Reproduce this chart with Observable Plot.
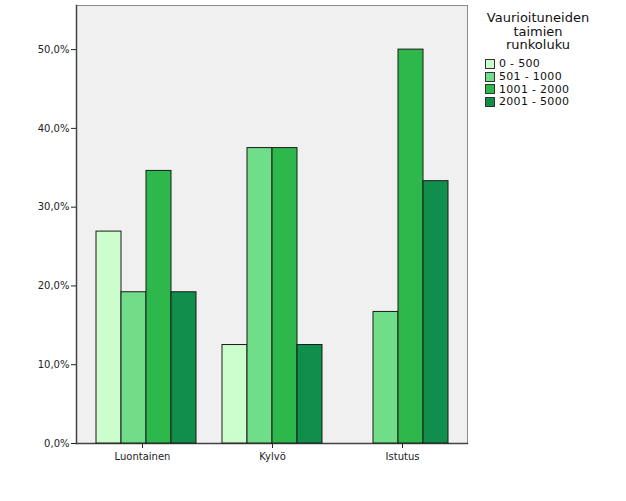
<!DOCTYPE html>
<html><head><meta charset="utf-8">
<script src="https://cdn.jsdelivr.net/npm/d3@7"></script>
<script src="https://cdn.jsdelivr.net/npm/@observablehq/plot@0.6"></script>
<style>
body{margin:0;background:#fff;font-family:"DejaVu Sans",sans-serif;}
#wrap{position:relative;width:626px;height:501px;}
#bg,#fg{position:absolute;left:0;top:0;}
#legend{position:absolute;left:470px;top:11px;width:136px;font-family:"DejaVu Sans",sans-serif;color:#111;}
#legend .title{text-align:center;font-size:13px;line-height:13.5px;margin-bottom:6px;}
#legend .item{display:flex;align-items:center;font-size:11px;height:12.7px;margin-left:15px;letter-spacing:0.3px;}
#legend .sw{width:10px;height:10px;border:1px solid #333;margin-right:4px;box-sizing:border-box;}
</style></head>
<body><div id="wrap"><div id="bg"></div><div id="fg"></div><div id="legend"></div></div>
<script>
const categories = ["Luontainen", "Kylvö", "Istutus"];
const series = ["0 - 500", "501 - 1000", "1001 - 2000", "2001 - 5000"];
const colors = ["#ccfdcc", "#70dd88", "#2eb84b", "#0f8f4b"];
const luontainen = [26.9, 19.2, 34.6, 19.2];
const kylvo = [12.5, 37.5, 37.5, 12.5];
const istutus = [0, 16.7, 50.0, 33.3];
const yTicks = [0, 10, 20, 30, 40, 50];
const legendTitle = "Vaurioituneiden taimien runkoluku";

const valuesByCat = [luontainen, kylvo, istutus];
const data = [];
categories.forEach((c, i) => series.forEach((s, j) => data.push({cat: c, ser: s, val: valuesByCat[i][j]})));

const fmt = v => v.toFixed(1).replace(".", ",") + "%";

const common = {
  width: 626, height: 480,
  marginLeft: 76, marginRight: 159, marginTop: 5, marginBottom: 37,
  style: {fontFamily: "DejaVu Sans, sans-serif", fontSize: "10px", color: "#222", background: "transparent"}
};
const yScale = {domain: [0, 55.6], ticks: yTicks, tickFormat: fmt, label: null, tickSize: 5, tickPadding: 2};
const pIn = 0.2, pOut = 0.15;

// background layer: frame, axes
const bg = Plot.plot({
  ...common,
  x: {domain: categories, paddingInner: pIn, paddingOuter: pOut, label: null, tickSize: 5, tickPadding: 4},
  y: yScale,
  marks: [
    Plot.frame({fill: "#f0f0f0", stroke: "#8a8a8a"}),
    Plot.frame({anchor: "left", stroke: "#444", strokeWidth: 1.5}),
    Plot.frame({anchor: "bottom", stroke: "#444", strokeWidth: 1.5})
  ]
});
document.getElementById("bg").appendChild(bg);

// foreground layer: grouped bars
const fg = Plot.plot({
  ...common,
  facet: {marginLeft: 0, marginRight: 0, marginTop: 0, marginBottom: 0},
  fx: {domain: categories, paddingInner: pIn, paddingOuter: pOut, axis: null, label: null},
  x: {domain: series, padding: 0, axis: null},
  y: {...yScale, axis: null},
  color: {domain: series, range: colors},
  marks: [
    Plot.barY(data, {fx: "cat", x: "ser", y: "val", fill: "ser", stroke: "#1a1a1a", strokeWidth: 1})
  ]
});
document.getElementById("fg").appendChild(fg);

const lg = document.getElementById("legend");
const t = document.createElement("div"); t.className = "title";
t.innerHTML = "Vaurioituneiden<br>taimien<br>runkoluku";
t.setAttribute("aria-label", legendTitle);
lg.appendChild(t);
series.forEach((s, i) => {
  const it = document.createElement("div"); it.className = "item";
  const sw = document.createElement("div"); sw.className = "sw"; sw.style.background = colors[i];
  const lb = document.createElement("span"); lb.textContent = s;
  it.appendChild(sw); it.appendChild(lb); lg.appendChild(it);
});
</script></body></html>
